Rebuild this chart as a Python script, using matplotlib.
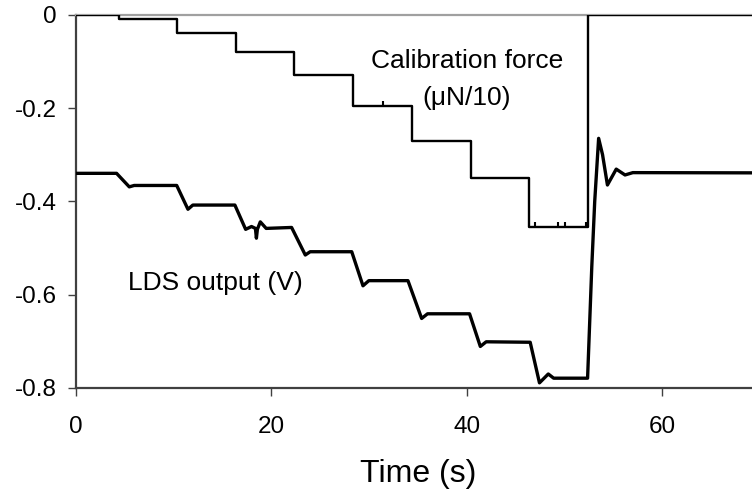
import matplotlib
matplotlib.use("Agg")
import matplotlib.pyplot as plt

plt.rcParams['font.family'] = ['Liberation Sans', 'DejaVu Sans']

# --- calibration force (uN/10), step levels ---
force_t = [0, 4.4, 10.35, 16.4, 22.3, 28.35, 34.45, 40.4, 46.4, 52.42, 70]
force_v = [0, -0.01, -0.04, -0.08, -0.13, -0.196, -0.27, -0.351, -0.455, 0, 0]

# small spikes seen on the force trace (time, height)
spike_t = [31.4, 47.0, 49.3, 50.05, 52.2]
spike_base = [-0.196, -0.455, -0.455, -0.455, -0.455]
spike_h = [0.01, 0.011, 0.011, 0.011, 0.011]

# --- LDS output (V) ---
lds_t = [0, 4.2, 5.5, 6.0, 10.35, 11.5, 12.0, 16.3, 17.4, 18.0, 18.4, 18.5,
         18.6, 18.9, 19.5, 22.1, 23.5, 24.0, 28.25, 29.4, 30.0, 34.0, 35.4,
         36.0, 40.3, 41.4, 42.0, 46.5, 47.45, 48.35, 48.9, 52.37, 52.8, 53.1,
         53.5, 53.9, 54.4, 55.3, 56.2, 57.0, 70]
lds_v = [-0.34, -0.34, -0.369, -0.366, -0.366, -0.417, -0.408, -0.408, -0.46,
         -0.454, -0.458, -0.479, -0.46, -0.444, -0.458, -0.456, -0.515, -0.508,
         -0.508, -0.581, -0.570, -0.570, -0.651, -0.641, -0.641, -0.711, -0.701,
         -0.702, -0.789, -0.770, -0.779, -0.779, -0.54, -0.40, -0.265, -0.30,
         -0.365, -0.331, -0.3435, -0.3385, -0.339]

fig = plt.figure(figsize=(7.52, 4.94), dpi=100)
ax = fig.add_axes([0.1004, 0.2146, 0.9102, 0.7557])

ax.step(force_t, force_v, where='post', color='black', lw=1.7, zorder=3)
ax.vlines(spike_t, spike_base, [b + h for b, h in zip(spike_base, spike_h)],
          color='black', lw=1.5, zorder=3)
ax.plot(lds_t, lds_v, color='black', lw=2.4, zorder=3)

ax.set_xlim(0, 70)
ax.set_ylim(-0.8, 0)
ax.set_xticks([0, 20, 40, 60])
ax.set_yticks([-0.8, -0.6, -0.4, -0.2, 0])
ax.set_yticklabels(['-0.8', '-0.6', '-0.4', '-0.2', '0'])

for s in ['left', 'bottom']:
    ax.spines[s].set_color('#404040')
    ax.spines[s].set_linewidth(1.6)
ax.spines['top'].set_color('#a0a0a0')
ax.spines['top'].set_linewidth(1.6)
ax.spines['right'].set_visible(False)

ax.tick_params(axis='both', direction='out', length=5.5, width=1.0,
               color='#404040', labelsize=17.5)
ax.tick_params(axis='x', pad=15)
ax.tick_params(axis='y', pad=8)

ax.set_xlabel('Time (s)', fontsize=23, labelpad=15)

ax.text(40.0, -0.1, 'Calibration force', fontsize=19, ha='center', va='center')
ax.text(40.0, -0.179, '(\u03bcN/10)', fontsize=19, ha='center', va='center')
ax.text(14.26, -0.5756, 'LDS output (V)', fontsize=19, ha='center', va='center')

fig.savefig('out.png', dpi=100)
